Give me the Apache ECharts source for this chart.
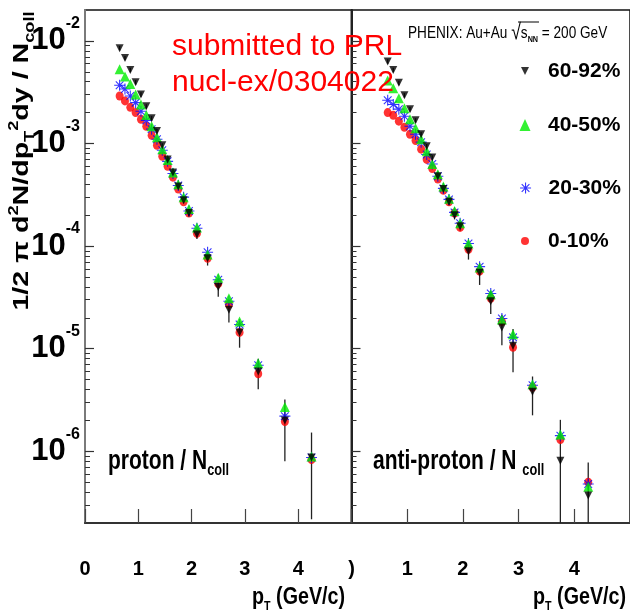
<!DOCTYPE html>
<html>
<head>
<meta charset="utf-8">
<title>proton / anti-proton spectra</title>
<script src="https://cdn.jsdelivr.net/npm/echarts@6/dist/echarts.min.js"></script>
<style>
html, body { margin: 0; padding: 0; background: #fff; }
#chart { width: 630px; height: 615px; }
</style>
</head>
<body>
<div id="chart"></div>
<script>
// pT bin centres (GeV/c)
var pt = [0.65, 0.75, 0.85, 0.95, 1.05, 1.15, 1.25, 1.35, 1.45, 1.55, 1.65, 1.75, 1.85, 1.95, 2.1, 2.3, 2.5, 2.7, 2.9, 3.25, 3.75, 4.25];

// proton / Ncoll
var p60 = [8.5e-3, 6.8e-3, 5.2e-3, 3.95e-3, 3.0e-3, 2.3e-3, 1.76e-3, 1.32e-3, 9.6e-4, 7.0e-4, 5.2e-4, 3.8e-4, 2.8e-4, 2.1e-4, 1.3e-4, 7.6e-5, 4.0e-5, 2.4e-5, 1.44e-5, 6.0e-6, 2.0e-6, 8.7e-7];
var p40 = [5.3e-3, 4.5e-3, 3.8e-3, 3.0e-3, 2.4e-3, 1.9e-3, 1.47e-3, 1.15e-3, 8.8e-4, 6.9e-4, 5.2e-4, 4.0e-4, 3.0e-4, 2.3e-4, 1.52e-4, 8.3e-5, 4.9e-5, 3.1e-5, 1.84e-5, 7.2e-6, 2.7e-6, 8.9e-7];
var p20 = [3.7e-3, 3.4e-3, 2.9e-3, 2.5e-3, 2.06e-3, 1.68e-3, 1.38e-3, 1.1e-3, 8.6e-4, 6.7e-4, 5.1e-4, 3.9e-4, 3.0e-4, 2.2e-4, 1.49e-4, 8.7e-5, 4.7e-5, 2.9e-5, 1.72e-5, 6.9e-6, 2.2e-6, 8.7e-7];
var p0 = [2.9e-3, 2.6e-3, 2.25e-3, 2.0e-3, 1.72e-3, 1.47e-3, 1.2e-3, 9.6e-4, 7.5e-4, 6.0e-4, 4.7e-4, 3.6e-4, 2.7e-4, 2.1e-4, 1.33e-4, 7.6e-5, 4.3e-5, 2.7e-5, 1.44e-5, 5.7e-6, 1.95e-6, 8.3e-7];
// relative errors of the 60-92% points
var p60Err = [0.05, 0.05, 0.05, 0.05, 0.05, 0.05, 0.05, 0.05, 0.05, 0.05, 0.05, 0.06, 0.07, 0.08, 0.1, 0.15, 0.2, 0.25, 0.29, 0.33, 0.6, 0.75];

// anti-proton / Ncoll
var a60 = [6.3e-3, 5.2e-3, 3.9e-3, 2.95e-3, 2.16e-3, 1.68e-3, 1.23e-3, 9.4e-4, 7.3e-4, 4.8e-4, 3.6e-4, 2.7e-4, 2.0e-4, 1.56e-4, 8.9e-5, 5.5e-5, 2.9e-5, 1.61e-5, 1.07e-5, 3.8e-6, 8.1e-7, 3.7e-7];
var a40 = [4.1e-3, 3.45e-3, 2.76e-3, 2.2e-3, 1.72e-3, 1.41e-3, 1.1e-3, 8.4e-4, 6.3e-4, 5.0e-4, 3.8e-4, 2.9e-4, 2.2e-4, 1.67e-4, 1.06e-4, 6.2e-5, 3.4e-5, 1.93e-5, 1.38e-5, 4.5e-6, 1.46e-6, 4.5e-7];
var a20 = [2.64e-3, 2.4e-3, 2.16e-3, 1.84e-3, 1.47e-3, 1.23e-3, 1.03e-3, 7.8e-4, 6.3e-4, 4.8e-4, 3.65e-4, 2.85e-4, 2.13e-4, 1.67e-4, 1.06e-4, 6.3e-5, 3.45e-5, 1.97e-5, 1.29e-5, 4.4e-6, 1.42e-6, 4.8e-7];
var a0 = [2.0e-3, 1.88e-3, 1.65e-3, 1.44e-3, 1.23e-3, 1.07e-3, 8.8e-4, 7.0e-4, 5.7e-4, 4.5e-4, 3.5e-4, 2.7e-4, 2.1e-4, 1.52e-4, 9.3e-5, 5.7e-5, 3.1e-5, 1.84e-5, 1.03e-5, 4.2e-6, 1.3e-6, 5.0e-7];
var a60Err = [0.05, 0.05, 0.05, 0.05, 0.05, 0.05, 0.05, 0.05, 0.05, 0.06, 0.07, 0.08, 0.09, 0.1, 0.17, 0.24, 0.25, 0.33, 0.45, 0.41, 1.5, 1.1];

var yMin = 2e-7, yMax = 2e-2;
var yMajor = [1e-6, 1e-5, 1e-4, 1e-3, 1e-2];
var yMinor = [3e-7, 4e-7, 5e-7, 6e-7, 7e-7, 8e-7, 9e-7,
  2e-6, 3e-6, 4e-6, 5e-6, 6e-6, 7e-6, 8e-6, 9e-6,
  2e-5, 3e-5, 4e-5, 5e-5, 6e-5, 7e-5, 8e-5, 9e-5,
  2e-4, 3e-4, 4e-4, 5e-4, 6e-4, 7e-4, 8e-4, 9e-4,
  2e-3, 3e-3, 4e-3, 5e-3, 6e-3, 7e-3, 8e-3, 9e-3];
var xLabelsLeft = [0, 1, 2, 3, 4];
var xLabelsRight = [0, 1, 2, 3, 4];

var SANS = '"Liberation Sans", Arial, Helvetica, sans-serif';

var asterisk = 'path://M5,0L5,10M0,5L10,5M1.5,1.5L8.5,8.5M8.5,1.5L1.5,8.5';
var downTri = 'path://M0,0L10,0L5,10Z';
var sym = {
  '60-92%': { symbol: downTri, size: [8, 8], color: '#000000' },
  '40-50%': { symbol: 'triangle', size: [10, 10], color: '#00ee00' },
  '20-30%': { symbol: asterisk, size: [11, 11], color: '#0000ff' },
  '0-10%': { symbol: 'circle', size: [8, 9], color: '#ff0000' }
};

function pairs(vals) {
  return pt.map(function (x, i) { return [x, vals[i]]; });
}

function markStyle(name) {
  var c = sym[name].color;
  return name === '20-30%' ? { color: c, borderColor: c, borderWidth: 1.1 } : { color: c };
}

function scatter(name, vals, gi) {
  var s = sym[name];
  return {
    name: name, type: 'scatter', xAxisIndex: gi, yAxisIndex: gi * 2,
    symbol: s.symbol, symbolSize: s.size,
    itemStyle: markStyle(name),
    emphasis: { disabled: true },
    data: pairs(vals), z: 3
  };
}

function errBars(vals, rel, gi) {
  return {
    type: 'custom', xAxisIndex: gi, yAxisIndex: gi * 2, clip: true, silent: true, z: 2,
    encode: { x: 0, y: 1 },
    data: pt.map(function (x, i) { return [x, vals[i], rel[i]]; }),
    renderItem: function (params, api) {
      var x = api.value(0), v = api.value(1), e = v * api.value(2);
      var hi = api.coord([x, v + e]);
      var lo = api.coord([x, Math.max(v - e, yMin)]);
      return { type: 'line', shape: { x1: hi[0], y1: hi[1], x2: lo[0], y2: lo[1] },
        style: { stroke: '#222', lineWidth: 1.3 } };
    }
  };
}

function xAxis(gi, labels, zeroText) {
  return {
    type: 'value', gridIndex: gi, min: 0, max: 5, interval: 1,
    axisLine: { show: true, onZero: false, lineStyle: { color: '#333', width: 2 } },
    axisTick: { show: true, inside: true, length: 14, lineStyle: { color: '#444', width: 1.2 } },
    splitLine: { show: false },
    axisLabel: {
      customValues: labels, margin: 36, color: '#000',
      fontFamily: SANS, fontWeight: 'bold', fontSize: 20,
      formatter: function (v) { return v === 0 ? zeroText : String(v); }
    }
  };
}

function yAxes(gi, withLabels, lineColor) {
  return [{
    type: 'log', logBase: 10, gridIndex: gi, position: 'left', min: yMin, max: yMax,
    axisLine: { show: true, onZero: false, lineStyle: { color: lineColor, width: 2 } },
    axisTick: { show: true, inside: true, length: 9, customValues: yMajor, lineStyle: { color: '#333', width: 1.2 } },
    splitLine: { show: false },
    axisLabel: {
      show: withLabels, customValues: yMajor, margin: 5,
      formatter: function (v) { return '{b|10}{e|' + Math.round(Math.log10(v)) + '}'; },
      rich: {
        b: { fontFamily: SANS, fontWeight: 'bold', fontSize: 31, lineHeight: 50, color: '#000', verticalAlign: 'middle' },
        e: { fontFamily: SANS, fontWeight: 'bold', fontSize: 16, lineHeight: 16, color: '#000', verticalAlign: 'top' }
      }
    }
  }, {
    type: 'log', logBase: 10, gridIndex: gi, position: 'left', min: yMin, max: yMax,
    axisLine: { show: false },
    axisTick: { show: true, inside: true, length: 5, customValues: yMinor, lineStyle: { color: '#333', width: 1 } },
    splitLine: { show: false },
    axisLabel: { show: false }
  }];
}

function legendItem(name, centre, w, h) {
  var s = sym[name];
  return {
    data: [{ name: name, icon: s.symbol, itemStyle: markStyle(name) }],
    left: 525 - w / 2, top: centre - 10.5, padding: 0, itemWidth: w, itemHeight: h,
    selectedMode: false,
    textStyle: { fontFamily: SANS, fontWeight: 'bold', fontSize: 21, color: '#000', padding: [0, 0, 0, 18 - w / 2] }
  };
}

function textRich(main, sub) {
  return {
    m: { fontFamily: SANS, fontWeight: 'bold', fontSize: main, lineHeight: main + 8, verticalAlign: 'middle', fill: '#000' },
    s: { fontFamily: SANS, fontWeight: 'bold', fontSize: sub, lineHeight: sub, verticalAlign: 'bottom', fill: '#000' },
    u: { fontFamily: SANS, fontWeight: 'bold', fontSize: sub, lineHeight: sub, verticalAlign: 'top', fill: '#000' }
  };
}

var chart = echarts.init(document.getElementById('chart'), null, { renderer: 'canvas' });

chart.setOption({
  animation: false,
  backgroundColor: '#ffffff',
  grid: [
    { left: 85, top: 10, width: 266.5, height: 513, show: true, borderColor: '#111', borderWidth: 1.5, backgroundColor: 'transparent' },
    { left: 351.5, top: 10, width: 281.5, height: 513, show: true, borderColor: '#111', borderWidth: 1.5, backgroundColor: 'transparent' }
  ],
  xAxis: [xAxis(0, xLabelsLeft, '0'), xAxis(1, xLabelsRight, ')')],
  yAxis: yAxes(0, true, '#7a7a7a').concat(yAxes(1, false, '#222')),
  legend: [
    legendItem('60-92%', 71, 8, 8),
    legendItem('40-50%', 125, 11, 12),
    legendItem('20-30%', 188, 11, 11),
    legendItem('0-10%', 241, 8, 12)
  ],
  series: [
    errBars(p60, p60Err, 0),
    scatter('0-10%', p0, 0), scatter('20-30%', p20, 0), scatter('40-50%', p40, 0), scatter('60-92%', p60, 0),
    errBars(a60, a60Err, 1),
    scatter('0-10%', a0, 1), scatter('20-30%', a20, 1), scatter('40-50%', a40, 1), scatter('60-92%', a60, 1)
  ],
  graphic: [
    { type: 'text', x: 22, y: 161, rotation: Math.PI / 2, scaleX: 1.3, z: 10,
      style: { text: '{m|1/2 π d}{u|2}{m|N/dp}{s|T}{u|2}{m|dy / N}{s|coll}', align: 'center', verticalAlign: 'middle', rich: textRich(22, 14) } },
    { type: 'text', x: 172, y: 47, z: 10,
      style: { text: 'submitted to PRL', fontFamily: SANS, fontSize: 30, fill: '#ff0000', verticalAlign: 'middle' } },
    { type: 'text', x: 172, y: 83, z: 10,
      style: { text: 'nucl-ex/0304022', fontFamily: SANS, fontSize: 30, fill: '#ff0000', verticalAlign: 'middle' } },
    { type: 'text', x: 408, y: 33, scaleX: 0.8, z: 10,
      style: { text: '{t|PHENIX: Au+Au }{r|√}{t|s}{n|NN}{t| = 200 GeV}', verticalAlign: 'middle',
        rich: {
          t: { fontFamily: SANS, fontSize: 17, lineHeight: 22, verticalAlign: 'middle', fill: '#000' },
          r: { fontFamily: SANS, fontSize: 22, lineHeight: 22, verticalAlign: 'middle', fill: '#000' },
          n: { fontFamily: SANS, fontWeight: 'bold', fontSize: 9, lineHeight: 9, verticalAlign: 'bottom', fill: '#000' }
        } } },
    { type: 'line', z: 10, shape: { x1: 518, y1: 22, x2: 539, y2: 22 }, style: { stroke: '#000', lineWidth: 1 } },
    { type: 'text', x: 108, y: 461, scaleX: 0.75, z: 10,
      style: { text: '{m|proton / N}{s|coll}', verticalAlign: 'middle', rich: textRich(28, 17) } },
    { type: 'text', x: 373, y: 461, scaleX: 0.75, z: 10,
      style: { text: '{m|anti-proton / N }{s|coll}', verticalAlign: 'middle', rich: textRich(28, 17) } },
    { type: 'text', x: 345, y: 597, scaleX: 0.82, z: 10,
      style: { text: '{m|p}{s|T}{m| (GeV/c)}', align: 'right', verticalAlign: 'middle', rich: textRich(24, 13) } },
    { type: 'text', x: 626, y: 597, scaleX: 0.82, z: 10,
      style: { text: '{m|p}{s|T}{m| (GeV/c)}', align: 'right', verticalAlign: 'middle', rich: textRich(24, 13) } }
  ]
});
</script>
</body>
</html>
